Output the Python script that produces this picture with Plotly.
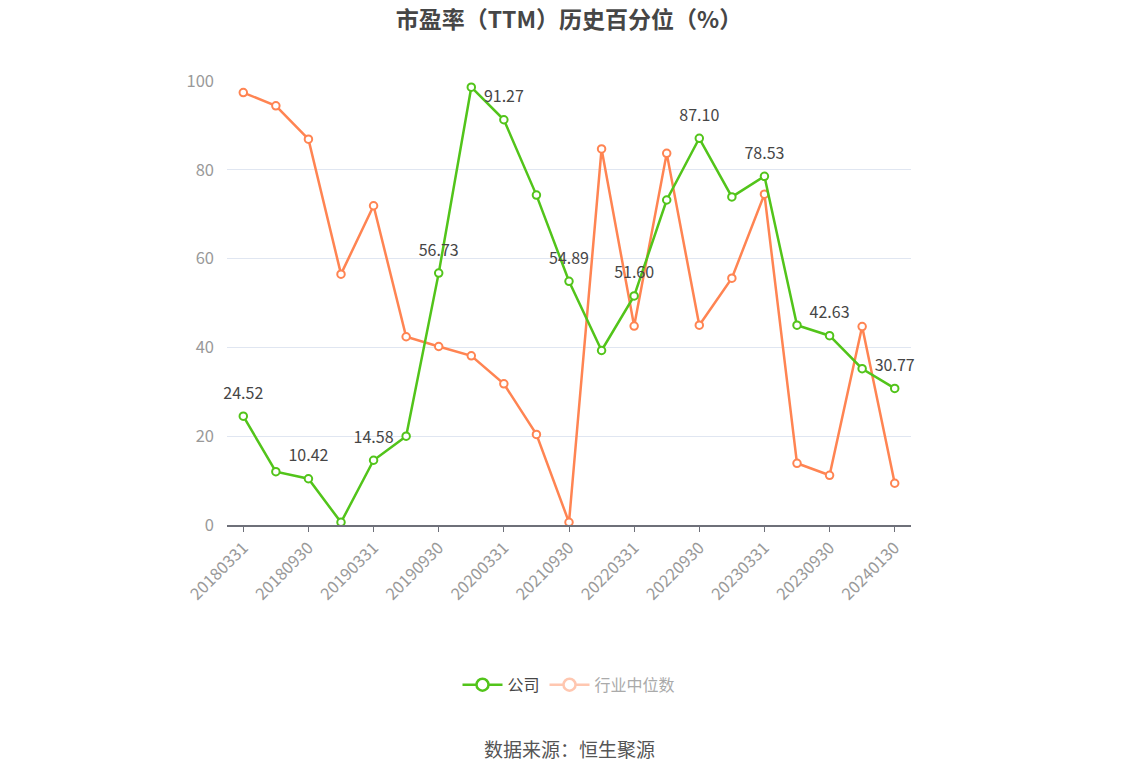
import plotly.graph_objects as go

categories = ["20180331", "20180630", "20180930", "20181231", "20190331", "20190630",
              "20190930", "20191231", "20200331", "20210630", "20210930", "20211231",
              "20220331", "20220630", "20220930", "20221231", "20230331", "20230630",
              "20230930", "20231231", "20240130"]
company = [24.52, 12.0, 10.42, 0.6, 14.58, 20.0, 56.73, 98.6, 91.27, 74.3, 54.89, 39.3,
           51.60, 73.2, 87.10, 73.9, 78.53, 45.0, 42.63, 35.2, 30.77]
industry = [97.4, 94.4, 86.9, 56.5, 71.9, 42.4, 40.2, 38.1, 31.8, 20.4, 0.6, 84.7,
            44.8, 83.7, 45.0, 55.6, 74.5, 13.9, 11.2, 44.7, 9.4]
tick_labels = categories[::2]
yticks = [0, 20, 40, 60, 80, 100]

GREEN = "#52C41A"
ORANGE = "#FF8452"
FONT = "Noto Sans CJK SC, Noto Sans, sans-serif"

labels = [f"{v:.2f}" if i % 2 == 0 else "" for i, v in enumerate(company)]

fig = go.Figure()
fig.add_trace(go.Scatter(
    x=categories, y=industry, mode="lines+markers", name="行业中位数",
    line=dict(color=ORANGE, width=2.5),
    marker=dict(symbol="circle", size=7.5, color="white", line=dict(color=ORANGE, width=2)),
    showlegend=False, cliponaxis=False,
))
fig.add_trace(go.Scatter(
    x=categories, y=company, mode="lines+markers", name="公司",
    line=dict(color=GREEN, width=2.5),
    marker=dict(symbol="circle", size=7.5, color="white", line=dict(color=GREEN, width=2)),
    showlegend=False, cliponaxis=False,
))
# value labels (transparent markers give the label offset)
fig.add_trace(go.Scatter(
    x=categories, y=company, mode="markers+text", text=labels, textposition="top center",
    textfont=dict(size=16, color="#464646", family=FONT),
    marker=dict(size=20, color="rgba(0,0,0,0)"),
    showlegend=False, hoverinfo="skip", cliponaxis=False,
))
# legend entries
fig.add_trace(go.Scatter(
    x=[None], y=[None], mode="lines+markers", name="公司",
    line=dict(color=GREEN, width=2.5),
    marker=dict(symbol="circle", size=12, color="white", line=dict(color=GREEN, width=2.5)),
))
fig.add_trace(go.Scatter(
    x=[None], y=[None], mode="lines+markers",
    name='<span style="color:#AAAAAA">行业中位数</span>',
    opacity=0.45,
    line=dict(color=ORANGE, width=2.5),
    marker=dict(symbol="circle", size=12, color="white", line=dict(color=ORANGE, width=2.5)),
))

fig.update_layout(
    width=1148, height=776,
    margin=dict(l=227, r=237, t=81, b=251),
    paper_bgcolor="white", plot_bgcolor="white",
    font=dict(family=FONT, color="#999999", size=14),
    title=dict(text="<b>市盈率（TTM）历史百分位（%）</b>", x=0.5, xref="paper", xanchor="center",
               y=1, yref="container", yanchor="top", pad=dict(t=12),
               font=dict(size=23, color="#464646", family=FONT)),
    legend=dict(orientation="h", x=0.5, xanchor="center", y=-0.36, yanchor="middle",
                font=dict(size=16, color="#464646", family=FONT),
                itemwidth=40, traceorder="normal"),
    xaxis=dict(type="category", categoryorder="array", categoryarray=categories,
               range=[-0.5, 20.5], tickmode="array", tickvals=tick_labels, ticktext=tick_labels,
               tickangle=-45, ticks="outside", ticklen=5, tickcolor="#6E7079",
               showline=True, linecolor="#6E7079", linewidth=1.5, showgrid=False,
               tickfont=dict(size=16.5, color="#999999", family=FONT)),
    yaxis=dict(range=[0, 100], tickvals=yticks, showgrid=True, gridcolor="#E0E6F1",
               zeroline=False, showline=False, ticks="", ticklabelstandoff=12,
               tickfont=dict(size=16.5, color="#999999", family=FONT)),
    annotations=[dict(text="数据来源：恒生聚源", x=0.5, xref="paper", y=(525 - 748) / 444,
                      yref="paper", yanchor="middle",
                      showarrow=False, font=dict(size=19, color="#555555", family=FONT))],
)
fig.write_html("out.html")
